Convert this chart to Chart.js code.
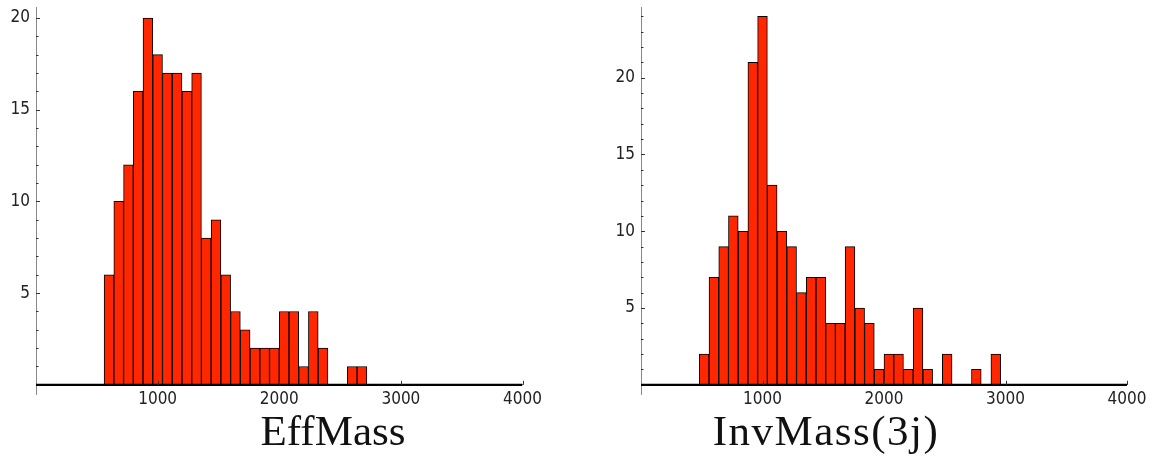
<!DOCTYPE html>
<html>
<head>
<meta charset="utf-8">
<script src="https://cdn.jsdelivr.net/npm/chart.js@4.4.1/dist/chart.umd.min.js"></script>
<style>
  html, body { margin: 0; padding: 0; background: #fff; }
  #wrap { position: relative; width: 1152px; height: 463px; overflow: hidden; }
  #wrap canvas { position: absolute; top: 0; }
  .ttl {
    position: absolute; top: 409px; width: 400px; text-align: center;
    font-family: "Liberation Serif", "Times New Roman", serif;
    font-size: 43px; line-height: 43px; color: #111; white-space: nowrap;
  }
</style>
</head>
<body>
<div id="wrap">
  <canvas id="effCanvas" width="576" height="463" style="left:0"></canvas>
  <canvas id="invCanvas" width="576" height="463" style="left:576px"></canvas>
  <div class="ttl" id="effTitle" style="left:133px"></div>
  <div class="ttl" id="invTitle" style="left:626px;letter-spacing:1.5px"></div>
</div>
<script>
// Histogram bins (GeV): common width, first left edge of each histogram
const binWidth = 80;
const effMassStart = 560;
const effMassCounts = [6, 10, 12, 16, 20, 18, 17, 17, 16, 17, 8, 9, 6, 4, 3, 2, 2, 2,
                       4, 4, 1, 4, 2, 0, 0, 1, 1];
const invMassStart = 480;
const invMassCounts = [2, 7, 9, 11, 10, 21, 24, 13, 10, 9, 6, 7, 7, 4, 4, 9, 5, 4, 1,
                       2, 2, 1, 5, 1, 0, 2, 0, 0, 1, 0, 2];
const xRange = [0, 4000];
const xTickStep = 1000;
const yLabelStep = 5;
const titles = ['EffMass', 'InvMass(3j)'];

const barRed = '#ff2600';
const tickFont = { family: '"DejaVu Sans Condensed", "DejaVu Sans", sans-serif', size: 17 };

// short tick marks drawn on the inside of both axes
const innerTicks = {
  id: 'innerTicks',
  afterDatasetsDraw(chart) {
    const { ctx, chartArea, scales: { x, y } } = chart;
    const y0 = y.getPixelForValue(0);
    ctx.save();
    ctx.strokeStyle = '#333';
    ctx.lineWidth = 1;
    y.ticks.forEach(t => {
      if (t.value <= 0 || !Number.isInteger(t.value)) return;
      const py = Math.round(y.getPixelForValue(t.value)) + 0.5;
      const len = t.value % yLabelStep === 0 ? 4 : 2.5;
      ctx.beginPath();
      ctx.moveTo(chartArea.left, py);
      ctx.lineTo(chartArea.left + len, py);
      ctx.stroke();
    });
    x.ticks.forEach(t => {
      if (t.value <= 0) return;
      const px = Math.round(x.getPixelForValue(t.value)) + 0.5;
      ctx.beginPath();
      ctx.moveTo(px, y0);
      ctx.lineTo(px, y0 - 4);
      ctx.stroke();
    });
    ctx.restore();
  }
};

function makeHistogram(canvasId, start, counts, yMin, yMax, padLeft, padRight) {
  const bars = counts.map((c, i) => ({ x: start + binWidth * i + binWidth / 2, y: c }));
  const baseline = xRange.map(v => ({ x: v, y: 0 }));
  return new Chart(document.getElementById(canvasId), {
    type: 'bar',
    data: {
      datasets: [
        {
          type: 'line', data: baseline, borderColor: '#000', borderWidth: 2.2,
          pointRadius: 0, tension: 0
        },
        {
          type: 'bar', data: bars, backgroundColor: barRed, borderColor: '#000',
          borderWidth: 1, barPercentage: 1, categoryPercentage: 1
        }
      ]
    },
    options: {
      responsive: false,
      animation: false,
      devicePixelRatio: 1,
      layout: { padding: { left: padLeft, right: padRight, top: 7, bottom: 69 } },
      plugins: { legend: { display: false }, tooltip: { enabled: false } },
      scales: {
        x: {
          type: 'linear',
          position: { y: 0 },
          min: xRange[0], max: xRange[1],
          offset: false,
          grid: { display: true, drawOnChartArea: false, drawTicks: false, offset: false },
          border: { display: true, color: '#888', width: 1 },
          ticks: {
            stepSize: xTickStep, autoSkip: false, maxRotation: 0, padding: 5,
            color: '#222', font: tickFont,
            callback: v => (v > 0 ? String(v) : '')
          },
          afterFit: s => { s.height = 0; s.paddingLeft = 0; s.paddingRight = 0; }
        },
        y: {
          type: 'linear',
          min: yMin, max: yMax,
          grid: { display: true, drawOnChartArea: false, drawTicks: false },
          border: { display: true, color: '#888', width: 1 },
          ticks: {
            stepSize: 1, autoSkip: false, includeBounds: false, padding: 6,
            color: '#222', font: tickFont,
            callback: v => (v > 0 && v % yLabelStep === 0 ? String(v) : '')
          },
          afterFit: s => { s.width = 36; s.paddingTop = 0; s.paddingBottom = 0; }
        }
      }
    },
    plugins: [innerTicks]
  });
}

makeHistogram('effCanvas', effMassStart, effMassCounts, -0.5, 20.6, 0, 53.5);
makeHistogram('invCanvas', invMassStart, invMassCounts, -0.6, 24.6, 29, 25);

document.getElementById('effTitle').textContent = titles[0];
document.getElementById('invTitle').textContent = titles[1];
</script>
</body>
</html>
